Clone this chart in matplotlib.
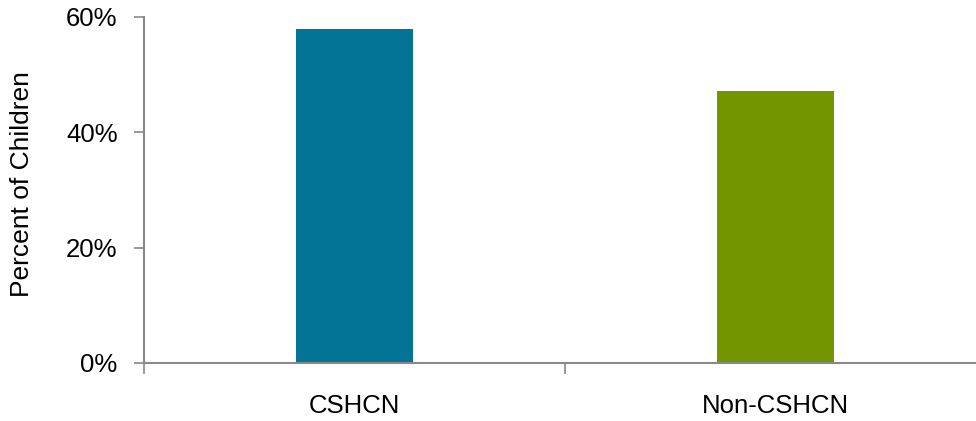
import matplotlib.pyplot as plt
import numpy as np
from matplotlib.ticker import FuncFormatter

plt.rcParams['font.family'] = ['Liberation Sans', 'DejaVu Sans']

categories = ["CSHCN", "Non-CSHCN"]
values = [58.0, 47.2]
colors = ["#037396", "#739500"]
yticks = [0, 20, 40, 60]

fig = plt.figure(figsize=(9.76, 4.21), dpi=100)
ax = fig.add_axes([144/976, 58/421, 842/976, 346/421])

x = np.arange(len(categories))
ax.bar(x, values, width=0.277, color=colors)

ax.set_xlim(-0.5, 1.5)
ax.set_ylim(0, 60)

# boundary ticks (marks only), category labels on minor ticks
ax.set_xticks([-0.5, 0.5, 1.5])
ax.set_xticklabels([])
ax.set_xticks(x, minor=True)
ax.set_xticklabels(categories, minor=True, fontsize=18.5)
ax.tick_params(axis='x', which='major', length=8, width=1.2, color='#898989', direction='out')
ax.tick_params(axis='x', which='minor', length=0, pad=22)

ax.set_yticks(yticks)
ax.yaxis.set_major_formatter(FuncFormatter(lambda v, p: f"{int(v)}%"))
ax.tick_params(axis='y', length=7, width=1.2, color='#898989', pad=12, labelsize=18.5)

for s in ['top', 'right']:
    ax.spines[s].set_visible(False)
for s in ['left', 'bottom']:
    ax.spines[s].set_color('#898989')
    ax.spines[s].set_linewidth(1.5)

ax.set_ylabel("Percent of Children", fontsize=19)
ax.yaxis.set_label_coords(-0.131, 0.516)

fig.savefig("out.png", dpi=100)
